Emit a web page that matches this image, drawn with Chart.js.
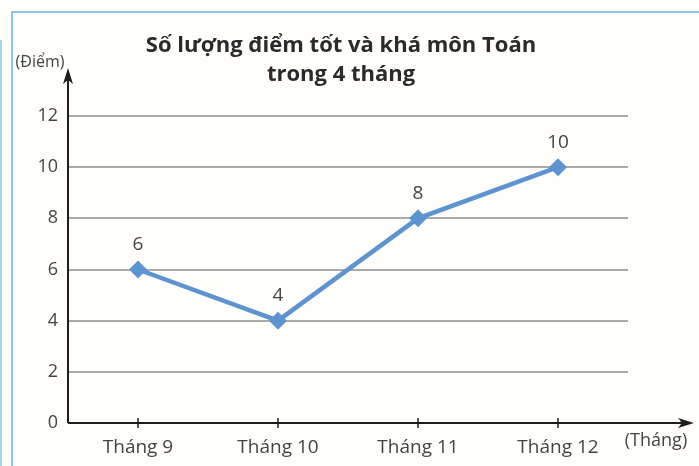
<!DOCTYPE html>
<html>
<head>
<meta charset="utf-8">
<script src="https://cdn.jsdelivr.net/npm/chart.js@4"></script>
<style>
  body { margin: 0; background: #fff; }
  canvas { display: block; }
</style>
</head>
<body>
<canvas id="chartDiem" width="699" height="466"></canvas>
<script>
"use strict";
const months = ["Tháng 9", "Tháng 10", "Tháng 11", "Tháng 12"];
const scores = [6, 4, 8, 10];
const yTicks = [0, 2, 4, 6, 8, 10, 12];
const titleLines = ["Số lượng điểm tốt và khá môn Toán", "trong 4 tháng"];

const fontFam = "'Open Sans', 'Noto Sans', sans-serif";
const textColor = "#444444";
const lineColor = "#5e93d1";

// frame, titles, axis arrows and the little ticks on the x axis
const decorPlugin = {
    id: "decor",
    beforeDraw: function (chart) {
        const ctx = chart.ctx;
        ctx.save();
        ctx.fillStyle = "#fffefb";
        ctx.fillRect(0, 0, chart.width, chart.height);
        ctx.strokeStyle = "#8ccbdc";
        ctx.lineWidth = 2;
        ctx.beginPath();
        ctx.moveTo(12, chart.height);
        ctx.lineTo(12, 12);
        ctx.lineTo(chart.width, 12);
        ctx.stroke();
        ctx.lineWidth = 1.5;
        ctx.beginPath();
        ctx.moveTo(1, 40);
        ctx.lineTo(1, chart.height);
        ctx.stroke();
        ctx.restore();
    },
    afterDraw: function (chart) {
        const ctx = chart.ctx;
        const area = chart.chartArea;
        const x = chart.scales.x;
        const y = chart.scales.y;
        const x0 = area.left;
        const y0 = y.getPixelForValue(0);
        ctx.save();
        ctx.fillStyle = "#2b2b2b";
        ctx.textAlign = "center";
        ctx.textBaseline = "middle";
        ctx.font = "bold 22px " + fontFam;
        ctx.fillText(titleLines[0], 341, 46);
        ctx.fillText(titleLines[1], 341, 75);

        ctx.fillStyle = textColor;
        ctx.font = "16px " + fontFam;
        ctx.fillText("(Điểm)", 40, 62);
        ctx.font = "18px " + fontFam;
        ctx.fillText("(Tháng)", 656, 441);

        // axes
        ctx.strokeStyle = "#1e1e1e";
        ctx.fillStyle = "#1e1e1e";
        ctx.lineWidth = 2;
        ctx.beginPath();
        ctx.moveTo(x0, y0);
        ctx.lineTo(x0, 78);
        ctx.moveTo(x0, y0);
        ctx.lineTo(684, y0);
        ctx.stroke();
        ctx.beginPath();
        ctx.moveTo(x0, 68);
        ctx.lineTo(x0 - 5, 84);
        ctx.lineTo(x0, 80);
        ctx.lineTo(x0 + 5, 84);
        ctx.closePath();
        ctx.fill();
        ctx.beginPath();
        ctx.moveTo(694, y0);
        ctx.lineTo(678, y0 - 5);
        ctx.lineTo(682, y0);
        ctx.lineTo(678, y0 + 5);
        ctx.closePath();
        ctx.fill();

        ctx.lineWidth = 1.5;
        ctx.beginPath();
        months.forEach(function (m, i) {
            const px = x.getPixelForValue(i);
            ctx.moveTo(px, y0 - 5);
            ctx.lineTo(px, y0 + 5);
        });
        ctx.stroke();
        ctx.restore();
    },
    afterDatasetsDraw: function (chart) {
        const ctx = chart.ctx;
        const meta = chart.getDatasetMeta(0);
        ctx.save();
        ctx.fillStyle = textColor;
        ctx.font = "19px " + fontFam;
        ctx.textAlign = "center";
        ctx.textBaseline = "middle";
        meta.data.forEach(function (pt, i) {
            ctx.fillText(String(scores[i]), pt.x, pt.y - 25);
        });
        ctx.restore();
    }
};

const context = document.getElementById("chartDiem");
const myChart = new Chart(context, {
    type: "line",
    data: {
        labels: months,
        datasets: [{
            label: "Điểm tốt và khá",
            data: scores,
            borderColor: lineColor,
            backgroundColor: lineColor,
            borderWidth: 4.5,
            pointStyle: "rectRot",
            pointRadius: 9,
            pointBorderWidth: 0,
            tension: 0
        }]
    },
    options: {
        responsive: false,
        animation: false,
        layout: { padding: { left: 0, top: 116, right: 71, bottom: 0 } },
        plugins: {
            legend: { display: false },
            tooltip: { enabled: false }
        },
        scales: {
            x: {
                offset: true,
                grid: { display: false },
                border: { display: false },
                ticks: {
                    color: textColor,
                    font: { family: fontFam, size: 19 },
                    padding: 5
                },
                afterFit: function (scale) { scale.height = 43; }
            },
            y: {
                min: 0,
                max: 12,
                afterBuildTicks: function (scale) {
                    scale.ticks = yTicks.map(function (v) { return { value: v }; });
                },
                grid: {
                    color: "#aaaaaa",
                    lineWidth: 2,
                    drawTicks: false
                },
                border: { display: false },
                ticks: {
                    color: textColor,
                    font: { family: fontFam, size: 18 },
                    padding: 10
                },
                afterFit: function (scale) { scale.width = 68; }
            }
        }
    },
    plugins: [decorPlugin]
});
</script>
</body>
</html>
